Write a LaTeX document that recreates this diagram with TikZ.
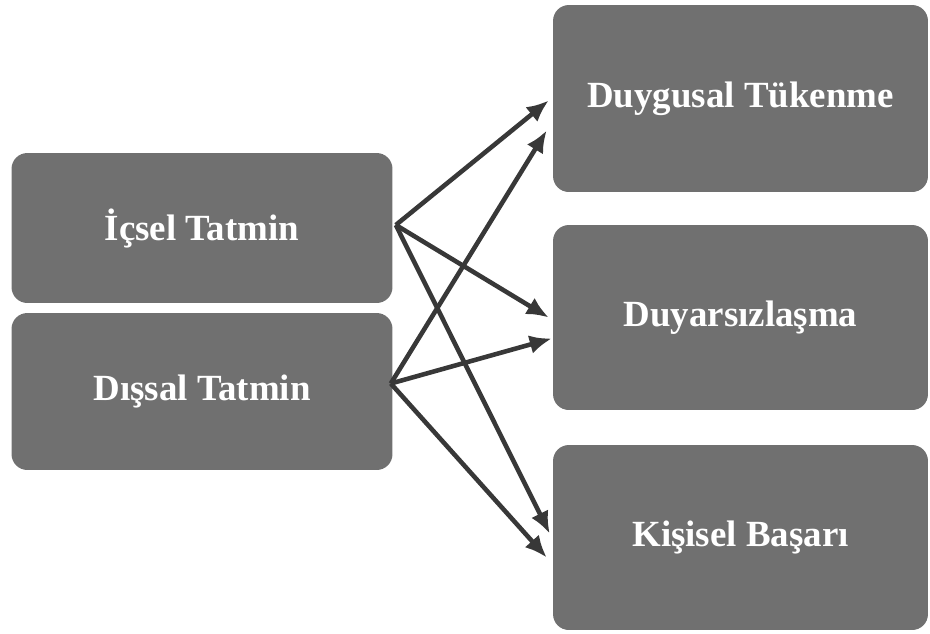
\documentclass[tikz,border=0pt]{standalone}
\usepackage{fontspec}
\setmainfont{Liberation Serif}
\usetikzlibrary{arrows.meta,calc}
\definecolor{boxgray}{HTML}{707070}
\definecolor{arrowgray}{HTML}{383838}

\begin{document}
\begin{tikzpicture}[x=0.02cm, y=-0.02cm]
    \tikzstyle{every node}=[font=\fontsize{21}{24}\selectfont\bfseries]
    \tikzstyle{box}=[fill=boxgray, text=white, rounded corners=9pt, inner sep=0pt]
    \tikzstyle{link}=[-{Latex[length=0.44cm, width=0.38cm]}, line width=2.6pt, draw=arrowgray]
    \useasboundingbox (0,0) rectangle (930,633); %
    \node[box, minimum width=7.62cm, minimum height=3.0cm] (icsel) at (202,228) {İçsel Tatmin}; %
    \node[box, minimum width=7.62cm, minimum height=3.14cm] (dissal) at (202,391.5) {Dışsal Tatmin}; %
    \node[box, minimum width=7.5cm, minimum height=3.74cm] (duygusal) at (740.5,98.5) {Duygusal Tükenme}; %
    \node[box, minimum width=7.5cm, minimum height=3.7cm] (duyarsiz) at (740.5,317.5) {Duyarsızlaşma}; %
    \node[box, minimum width=7.5cm, minimum height=3.7cm] (kisisel) at (740.5,537.5) {Kişisel Başarı}; %
    \draw[link] ($(icsel.east)+(3,-3)$) -- ($(duygusal.west)+(-4,2)$); %
    \draw[link] ($(icsel.east)+(3,-3)$) -- ($(duyarsiz.west)+(-4,0)$); %
    \draw[link] ($(icsel.east)+(3,-3)$) -- ($(kisisel.west)+(-3,-4)$); %
    \draw[link] ($(dissal.east)+(-2,-8)$) -- ($(duygusal.west)+(-6,32)$); %
    \draw[link] ($(dissal.east)+(-2,-8)$) -- ($(duyarsiz.west)+(-1,21)$); %
    \draw[link] ($(dissal.east)+(-2,-8)$) -- ($(kisisel.west)+(-6,20)$); %
\end{tikzpicture}
\end{document}
